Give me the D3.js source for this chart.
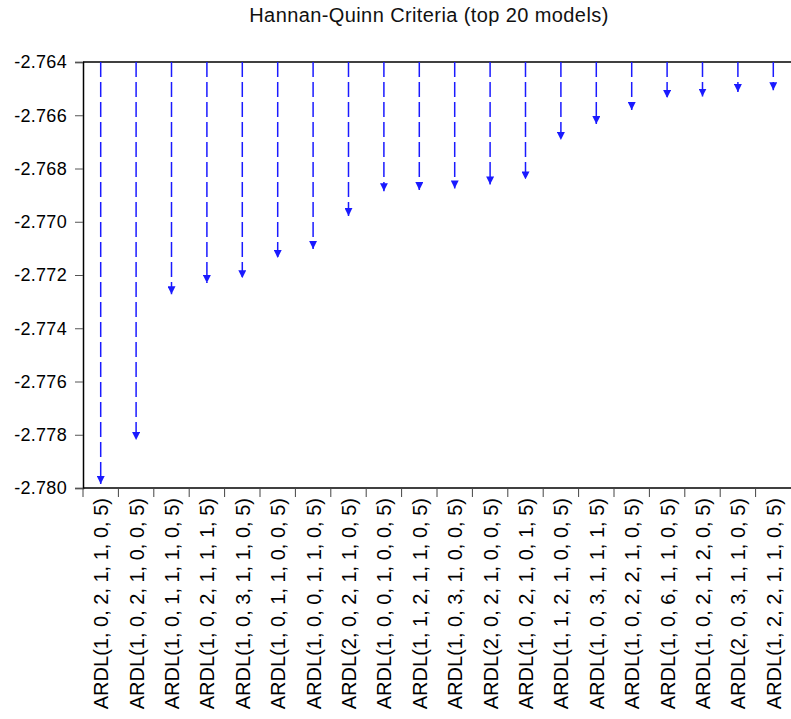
<!DOCTYPE html>
<html lang="en">
<head>
<meta charset="utf-8">
<title>Hannan-Quinn Criteria</title>
<script src="https://d3js.org/d3.v7.min.js"></script>
<style>
  body { margin: 0; background: #fff; }
  text { font-family: "Liberation Sans", Arial, sans-serif; }
</style>
</head>
<body>
<script>
// model labels, left to right
var models = [
  "ARDL(1, 0, 2, 1, 1, 0, 5)", "ARDL(1, 0, 2, 1, 0, 0, 5)", "ARDL(1, 0, 1, 1, 1, 0, 5)",
  "ARDL(1, 0, 2, 1, 1, 1, 5)", "ARDL(1, 0, 3, 1, 1, 0, 5)", "ARDL(1, 0, 1, 1, 0, 0, 5)",
  "ARDL(1, 0, 0, 1, 1, 0, 5)", "ARDL(2, 0, 2, 1, 1, 0, 5)", "ARDL(1, 0, 0, 1, 0, 0, 5)",
  "ARDL(1, 1, 2, 1, 1, 0, 5)", "ARDL(1, 0, 3, 1, 0, 0, 5)", "ARDL(2, 0, 2, 1, 0, 0, 5)",
  "ARDL(1, 0, 2, 1, 0, 1, 5)", "ARDL(1, 1, 2, 1, 0, 0, 5)", "ARDL(1, 0, 3, 1, 1, 1, 5)",
  "ARDL(1, 0, 2, 2, 1, 0, 5)", "ARDL(1, 0, 6, 1, 1, 0, 5)", "ARDL(1, 0, 2, 1, 2, 0, 5)",
  "ARDL(2, 0, 3, 1, 1, 0, 5)", "ARDL(1, 2, 2, 1, 1, 0, 5)"
];
// Hannan-Quinn values
var hq = [
  -2.77985, -2.77820, -2.77272, -2.77230, -2.77212, -2.77136,
  -2.77102, -2.76978, -2.76885, -2.76881, -2.76875, -2.76860,
  -2.76841, -2.76693, -2.76633, -2.76580, -2.76535, -2.76530,
  -2.76513, -2.76506
];
var yTicks = [-2.764, -2.766, -2.768, -2.770, -2.772, -2.774, -2.776, -2.778, -2.780];

var W = 791, H = 719;
var m = {left: 83, top: 62, right: 0, bottom: 231};

var svg = d3.select("body").append("svg")
  .attr("width", W)
  .attr("height", H);

var x = d3.scaleBand()
  .domain(models)
  .range([m.left, W - m.right])
  .padding(0);

var y = d3.scaleLinear()
  .domain([-2.764, -2.780])
  .range([m.top, H - m.bottom]);

svg.append("defs").append("marker")
  .attr("id", "head")
  .attr("viewBox", "0 0 8 8")
  .attr("refX", 4)
  .attr("refY", 8)
  .attr("markerWidth", 8)
  .attr("markerHeight", 8)
  .attr("markerUnits", "userSpaceOnUse")
  .attr("orient", "0")
  .append("path")
  .attr("d", "M0,0 L8,0 L4,8 Z")
  .attr("fill", "#1a1aff");

// title
svg.append("text")
  .attr("x", 429)
  .attr("y", 22)
  .attr("text-anchor", "middle")
  .attr("font-size", "20px")
  .attr("letter-spacing", "0.4px")
  .attr("fill", "#111")
  .text("Hannan-Quinn Criteria (top 20 models)");

// y axis
var yAxis = svg.append("g")
  .attr("transform", "translate(" + m.left + ",0)")
  .call(d3.axisLeft(y).tickValues(yTicks).tickSize(8).tickPadding(8));
yAxis.select(".domain").attr("stroke", "#000").attr("stroke-width", 1.5);
yAxis.selectAll(".tick line").attr("stroke", "#555");
yAxis.selectAll(".tick text")
  .attr("font-size", "18px")
  .attr("letter-spacing", "0.3px")
  .attr("font-family", "'Liberation Sans', Arial, sans-serif")
  .attr("fill", "#000")
  .text(d => d3.format(".3f")(d).replace("\u2212", "-"));

// top frame line
svg.append("line")
  .attr("x1", m.left).attr("x2", W)
  .attr("y1", y(-2.764)).attr("y2", y(-2.764))
  .attr("stroke", "#000")
  .attr("stroke-width", 1.5);

// x axis with ticks between categories
var bottom = H - m.bottom;
svg.append("line")
  .attr("x1", m.left).attr("x2", W)
  .attr("y1", bottom).attr("y2", bottom)
  .attr("stroke", "#000")
  .attr("stroke-width", 1.5);

svg.append("g").selectAll("line")
  .data(models)
  .enter()
  .append("line")
  .attr("x1", d => x(d))
  .attr("x2", d => x(d))
  .attr("y1", bottom)
  .attr("y2", bottom + 9)
  .attr("stroke", "#444");

svg.append("g").selectAll("text")
  .data(models)
  .enter()
  .append("text")
  .attr("transform", d => "translate(" + (x(d) + x.bandwidth() / 2 + 7.5) + "," + (bottom + 10) + ") rotate(-90)")
  .attr("text-anchor", "end")
  .attr("font-size", "20px")
  .attr("fill", "#000")
  .text(d => d);

// dropped arrows
svg.append("g").selectAll("line")
  .data(hq)
  .enter()
  .append("line")
  .attr("x1", (d, i) => x(models[i]) + x.bandwidth() / 2)
  .attr("x2", (d, i) => x(models[i]) + x.bandwidth() / 2)
  .attr("y1", y(-2.764))
  .attr("y2", d => y(d))
  .attr("stroke", "#1a1aff")
  .attr("stroke-width", 1.5)
  .attr("stroke-dasharray", "15,5")
  .attr("marker-end", "url(#head)");
</script>
</body>
</html>
